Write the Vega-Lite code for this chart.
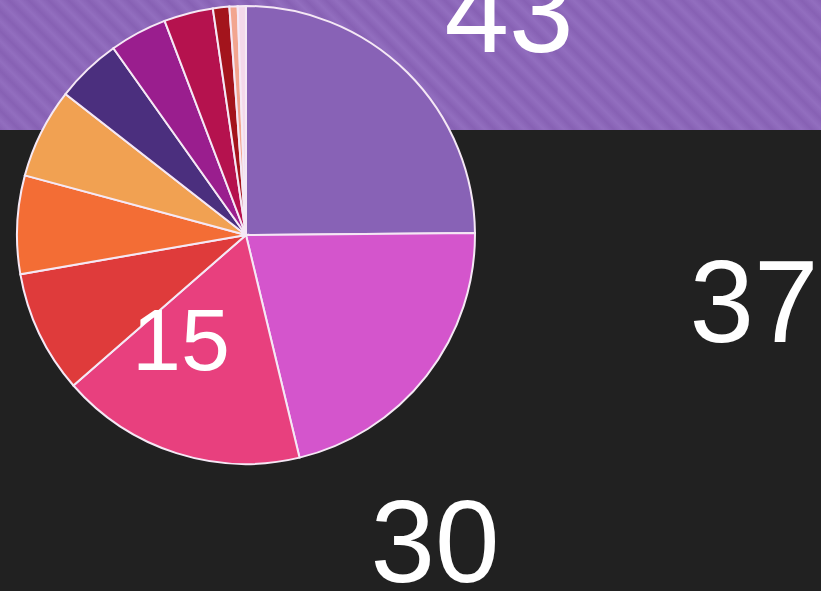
{
  "$schema": "https://vega.github.io/schema/vega-lite/v6.json",
  "width": 821,
  "height": 591,
  "autosize": {"type": "none"},
  "padding": 0,
  "background": "#212121",
  "config": {"view": {"stroke": null}},
  "datasets": {
    "band": [{"x0": 0, "x1": 100, "y0": 78.0, "y1": 100}],
    "slices": [
      {"i": 1, "category": "A", "value": 43},
      {"i": 2, "category": "B", "value": 37},
      {"i": 3, "category": "C", "value": 30},
      {"i": 4, "category": "D", "value": 15},
      {"i": 5, "category": "E", "value": 12},
      {"i": 6, "category": "F", "value": 11},
      {"i": 7, "category": "G", "value": 8},
      {"i": 8, "category": "H", "value": 7},
      {"i": 9, "category": "I", "value": 6},
      {"i": 10, "category": "J", "value": 2},
      {"i": 11, "category": "K", "value": 1},
      {"i": 12, "category": "L", "value": 1}
    ],
    "labels": [
      {"label": "43", "kind": "outside", "px": 62.0, "py": 91.2},
      {"label": "37", "kind": "outside", "px": 91.84, "py": 42.13},
      {"label": "30", "kind": "outside", "px": 52.98, "py": 1.52},
      {"label": "15", "kind": "inside", "px": 22.05, "py": 37.39}
    ]
  },
  "layer": [
    {
      "data": {"name": "band"},
      "mark": {
        "type": "rect",
        "strokeWidth": 0,
        "fill": {
          "gradient": "linear",
          "x1": 0, "y1": 1, "x2": 1.13, "y2": 0.821,
          "stops": [
            {"offset": 0, "color": "#8761b4"}, {"offset": 0.0104, "color": "#926ebf"},
            {"offset": 0.0208, "color": "#8761b4"}, {"offset": 0.0313, "color": "#926ebf"},
            {"offset": 0.0417, "color": "#8761b4"}, {"offset": 0.0521, "color": "#926ebf"},
            {"offset": 0.0625, "color": "#8761b4"}, {"offset": 0.0729, "color": "#926ebf"},
            {"offset": 0.0833, "color": "#8761b4"}, {"offset": 0.0938, "color": "#926ebf"},
            {"offset": 0.1042, "color": "#8761b4"}, {"offset": 0.1146, "color": "#926ebf"},
            {"offset": 0.125, "color": "#8761b4"}, {"offset": 0.1354, "color": "#926ebf"},
            {"offset": 0.1458, "color": "#8761b4"}, {"offset": 0.1563, "color": "#926ebf"},
            {"offset": 0.1667, "color": "#8761b4"}, {"offset": 0.1771, "color": "#926ebf"},
            {"offset": 0.1875, "color": "#8761b4"}, {"offset": 0.1979, "color": "#926ebf"},
            {"offset": 0.2083, "color": "#8761b4"}, {"offset": 0.2188, "color": "#926ebf"},
            {"offset": 0.2292, "color": "#8761b4"}, {"offset": 0.2396, "color": "#926ebf"},
            {"offset": 0.25, "color": "#8761b4"}, {"offset": 0.2604, "color": "#926ebf"},
            {"offset": 0.2708, "color": "#8761b4"}, {"offset": 0.2813, "color": "#926ebf"},
            {"offset": 0.2917, "color": "#8761b4"}, {"offset": 0.3021, "color": "#926ebf"},
            {"offset": 0.3125, "color": "#8761b4"}, {"offset": 0.3229, "color": "#926ebf"},
            {"offset": 0.3333, "color": "#8761b4"}, {"offset": 0.3438, "color": "#926ebf"},
            {"offset": 0.3542, "color": "#8761b4"}, {"offset": 0.3646, "color": "#926ebf"},
            {"offset": 0.375, "color": "#8761b4"}, {"offset": 0.3854, "color": "#926ebf"},
            {"offset": 0.3958, "color": "#8761b4"}, {"offset": 0.4063, "color": "#926ebf"},
            {"offset": 0.4167, "color": "#8761b4"}, {"offset": 0.4271, "color": "#926ebf"},
            {"offset": 0.4375, "color": "#8761b4"}, {"offset": 0.4479, "color": "#926ebf"},
            {"offset": 0.4583, "color": "#8761b4"}, {"offset": 0.4688, "color": "#926ebf"},
            {"offset": 0.4792, "color": "#8761b4"}, {"offset": 0.4896, "color": "#926ebf"},
            {"offset": 0.5, "color": "#8761b4"}, {"offset": 0.5104, "color": "#926ebf"},
            {"offset": 0.5208, "color": "#8761b4"}, {"offset": 0.5313, "color": "#926ebf"},
            {"offset": 0.5417, "color": "#8761b4"}, {"offset": 0.5521, "color": "#926ebf"},
            {"offset": 0.5625, "color": "#8761b4"}, {"offset": 0.5729, "color": "#926ebf"},
            {"offset": 0.5833, "color": "#8761b4"}, {"offset": 0.5938, "color": "#926ebf"},
            {"offset": 0.6042, "color": "#8761b4"}, {"offset": 0.6146, "color": "#926ebf"},
            {"offset": 0.625, "color": "#8761b4"}, {"offset": 0.6354, "color": "#926ebf"},
            {"offset": 0.6458, "color": "#8761b4"}, {"offset": 0.6563, "color": "#926ebf"},
            {"offset": 0.6667, "color": "#8761b4"}, {"offset": 0.6771, "color": "#926ebf"},
            {"offset": 0.6875, "color": "#8761b4"}, {"offset": 0.6979, "color": "#926ebf"},
            {"offset": 0.7083, "color": "#8761b4"}, {"offset": 0.7188, "color": "#926ebf"},
            {"offset": 0.7292, "color": "#8761b4"}, {"offset": 0.7396, "color": "#926ebf"},
            {"offset": 0.75, "color": "#8761b4"}, {"offset": 0.7604, "color": "#926ebf"},
            {"offset": 0.7708, "color": "#8761b4"}, {"offset": 0.7813, "color": "#926ebf"},
            {"offset": 0.7917, "color": "#8761b4"}, {"offset": 0.8021, "color": "#926ebf"},
            {"offset": 0.8125, "color": "#8761b4"}, {"offset": 0.8229, "color": "#926ebf"},
            {"offset": 0.8333, "color": "#8761b4"}, {"offset": 0.8438, "color": "#926ebf"},
            {"offset": 0.8542, "color": "#8761b4"}, {"offset": 0.8646, "color": "#926ebf"},
            {"offset": 0.875, "color": "#8761b4"}, {"offset": 0.8854, "color": "#926ebf"},
            {"offset": 0.8958, "color": "#8761b4"}, {"offset": 0.9063, "color": "#926ebf"},
            {"offset": 0.9167, "color": "#8761b4"}, {"offset": 0.9271, "color": "#926ebf"},
            {"offset": 0.9375, "color": "#8761b4"}, {"offset": 0.9479, "color": "#926ebf"},
            {"offset": 0.9583, "color": "#8761b4"}, {"offset": 0.9688, "color": "#926ebf"},
            {"offset": 0.9792, "color": "#8761b4"}, {"offset": 0.9896, "color": "#926ebf"},
            {"offset": 1, "color": "#8761b4"}
          ]
        }
      },
      "encoding": {
        "x": {"field": "x0", "type": "quantitative", "scale": {"domain": [0, 100], "nice": false, "zero": false}, "axis": null},
        "x2": {"field": "x1"},
        "y": {"field": "y0", "type": "quantitative", "scale": {"domain": [0, 100], "nice": false, "zero": false}, "axis": null},
        "y2": {"field": "y1"}
      }
    },
    {
      "data": {"name": "slices"},
      "mark": {"type": "arc", "outerRadius": 229, "stroke": "#f5e8f5", "strokeWidth": 2},
      "encoding": {
        "theta": {"field": "value", "type": "quantitative", "stack": true},
        "order": {"field": "i", "type": "quantitative"},
        "color": {
          "field": "category",
          "type": "nominal",
          "legend": null,
          "scale": {
            "domain": ["A", "B", "C", "D", "E", "F", "G", "H", "I", "J", "K", "L"],
            "range": ["#8862b6", "#d455cc", "#e8407e", "#df3b3b", "#f36d35", "#f1a152", "#4b2f7e", "#9a1e8e", "#b5124e", "#a3141c", "#f2a58f", "#f4d8ea"]
          }
        },
        "x": {"datum": 29.96, "type": "quantitative", "scale": {"domain": [0, 100], "nice": false, "zero": false}, "axis": null},
        "y": {"datum": 60.24, "type": "quantitative", "scale": {"domain": [0, 100], "nice": false, "zero": false}, "axis": null}
      }
    },
    {
      "data": {"name": "labels"},
      "transform": [{"filter": "datum.kind === 'outside'"}],
      "mark": {"type": "text", "font": "Liberation Sans", "fontSize": 116, "color": "#ffffff", "align": "center", "baseline": "alphabetic"},
      "encoding": {
        "x": {"field": "px", "type": "quantitative", "scale": {"domain": [0, 100], "nice": false, "zero": false}, "axis": null},
        "y": {"field": "py", "type": "quantitative", "scale": {"domain": [0, 100], "nice": false, "zero": false}, "axis": null},
        "text": {"field": "label"}
      }
    },
    {
      "data": {"name": "labels"},
      "transform": [{"filter": "datum.kind === 'inside'"}],
      "mark": {"type": "text", "font": "Liberation Sans", "fontSize": 88, "color": "#ffffff", "align": "center", "baseline": "alphabetic"},
      "encoding": {
        "x": {"field": "px", "type": "quantitative", "scale": {"domain": [0, 100], "nice": false, "zero": false}, "axis": null},
        "y": {"field": "py", "type": "quantitative", "scale": {"domain": [0, 100], "nice": false, "zero": false}, "axis": null},
        "text": {"field": "label"}
      }
    }
  ]
}
